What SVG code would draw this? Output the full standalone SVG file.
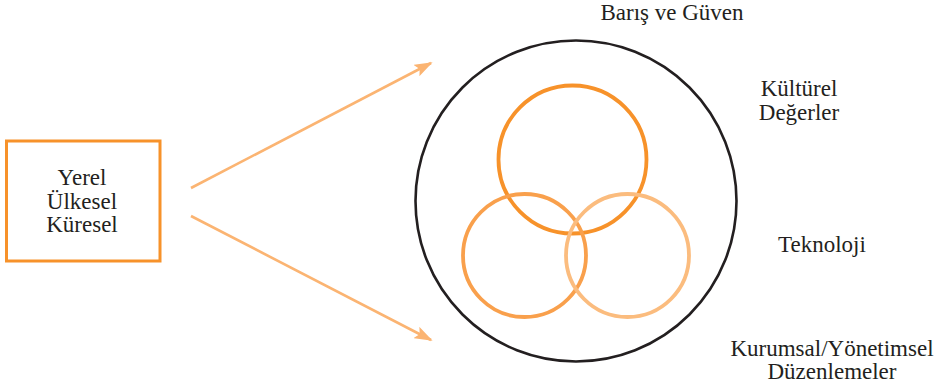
<svg xmlns="http://www.w3.org/2000/svg" width="940" height="388" viewBox="0 0 940 388">
<style>
  text{font-family:'Liberation Serif','Times New Roman',serif;font-size:23px;fill:#231f20;text-anchor:middle}
  .ring{fill:none;stroke-width:3.8}
  .arr{stroke:#fbb472;stroke-width:2.6;fill:none;marker-end:url(#ah)}
</style>
<defs>
  <marker id="ah" viewBox="0 0 10 7" refX="9" refY="3.5" markerWidth="7" markerHeight="4.9" markerUnits="strokeWidth" orient="auto">
    <path d="M0,0 L10,3.5 L0,7 L2,3.5 z" fill="#fbb472"/>
  </marker>
</defs>
<rect width="940" height="388" fill="#fff"/>
<g id="levels">
  <rect x="6.5" y="141" width="153.5" height="120" fill="none" stroke="#f7922a" stroke-width="3"/>
  <text x="82" y="185"><tspan x="82" y="185">Yerel</tspan><tspan x="82" y="209">Ülkesel</tspan><tspan x="82" y="232">Küresel</tspan></text>
</g>
<g id="connectors">
  <line class="arr" x1="191" y1="188" x2="431" y2="63"/>
  <line class="arr" x1="191" y1="216" x2="431" y2="340"/>
</g>
<g id="outer">
  <circle cx="576" cy="201" r="160.5" fill="none" stroke="#231f20" stroke-width="2.6"/>
</g>
<g id="kulturel-circle">
  <circle class="ring" cx="572.5" cy="159.5" r="74" stroke="#f7922a"/>
</g>
<g id="kurumsal-circle">
  <circle class="ring" cx="524.5" cy="255.5" r="61.5" stroke="#f9a04c"/>
</g>
<g id="teknoloji-circle">
  <circle class="ring" cx="627.5" cy="255.5" r="61.5" stroke="#fbbc7e"/>
</g>
<g id="labels">
  <text x="672" y="20">Barış ve Güven</text>
  <text x="799" y="96"><tspan x="799" y="96">Kültürel</tspan><tspan x="799" y="119.5">Değerler</tspan></text>
  <text x="822" y="252">Teknoloji</text>
  <text x="832" y="355.5"><tspan x="832" y="355.5">Kurumsal/Yönetimsel</tspan><tspan x="832" y="379">Düzenlemeler</tspan></text>
</g>
</svg>
